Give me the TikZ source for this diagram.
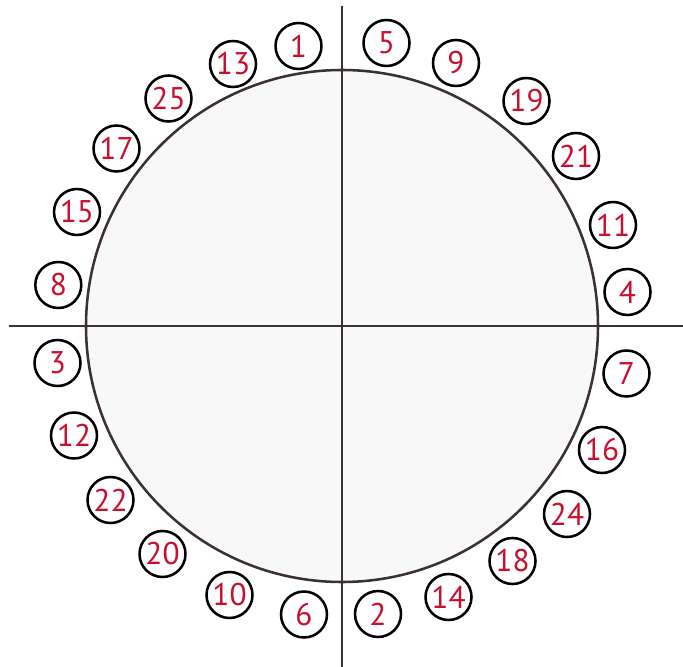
\documentclass[tikz,border=0pt]{standalone}
\usepackage{fontspec}
\setmainfont{PT Sans}
\definecolor{numred}{HTML}{C8102E}
\definecolor{axisgray}{HTML}{3A3036}
\definecolor{discfill}{HTML}{F8F8F8}
\begin{document}
\begin{tikzpicture}[x=0.75pt,y=-0.75pt,
  numcirc/.style={circle,draw=black,line width=1.9pt,minimum size=34.5pt,inner sep=0pt,
    text=numred,font=\fontsize{23.5}{23.5}\selectfont},
  axisline/.style={draw=axisgray,line width=1.9pt}]
\useasboundingbox (0,0) rectangle (683,667);
\node[circle,draw=axisgray,fill=discfill,line width=1.9pt,minimum size=384pt,inner sep=0pt] (disc) at (342,326) {};
\coordinate (L) at (9,326);
\coordinate (R) at (683,326);
\coordinate (T) at (342,6);
\coordinate (B) at (342,667);
\draw[axisline] (L) -- (R);
\draw[axisline] (T) -- (B);
\node[numcirc] (n1) at (298.5,46) {1};
\node[numcirc] (n5) at (386.5,43) {5};
\node[numcirc] (n13) at (233,64) {13};
\node[numcirc] (n9) at (456,63) {9};
\node[numcirc] (n25) at (168.5,98.5) {25};
\node[numcirc] (n19) at (526.5,101) {19};
\node[numcirc] (n17) at (116.5,148.5) {17};
\node[numcirc] (n21) at (576,156) {21};
\node[numcirc] (n15) at (77,212) {15};
\node[numcirc] (n11) at (613,225) {11};
\node[numcirc] (n8) at (58.3,285) {8};
\node[numcirc] (n4) at (627.5,292) {4};
\node[numcirc] (n3) at (57.5,363) {3};
\node[numcirc] (n7) at (626.5,373.5) {7};
\node[numcirc] (n12) at (74,435.5) {12};
\node[numcirc] (n16) at (602,450) {16};
\node[numcirc] (n22) at (110.5,500) {22};
\node[numcirc] (n24) at (567,514) {24};
\node[numcirc] (n20) at (162.5,554) {20};
\node[numcirc] (n18) at (512.5,561) {18};
\node[numcirc] (n10) at (229.5,595) {10};
\node[numcirc] (n14) at (448.5,597) {14};
\node[numcirc] (n6) at (304,614.5) {6};
\node[numcirc] (n2) at (378,614) {2};
\end{tikzpicture}
\end{document}
